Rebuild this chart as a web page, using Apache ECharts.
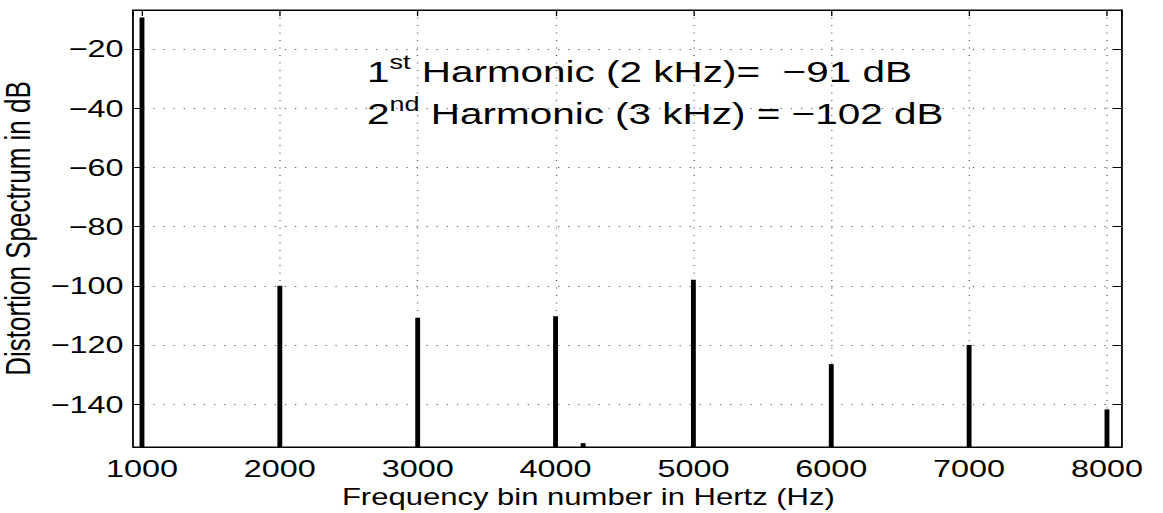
<!DOCTYPE html>
<html><head><meta charset="utf-8">
<script src="https://cdn.jsdelivr.net/npm/echarts@6/dist/echarts.min.js"></script>
<style>
html,body{margin:0;padding:0;background:#fff;overflow:hidden;}
#main{width:862px;height:513px;transform:scaleX(1.34919);transform-origin:0 0;}
</style></head><body><div id="main"></div>
<script>
// ---- data ----
const frequencies = [1000, 2000, 3000, 4000, 4200, 5000, 6000, 7000, 8000];
const levels = [-9.3, -100, -110.8, -110.3, -153.2, -98, -126.5, -120, -141.8];
const xRange = [935, 8109];
const yRange = [-154.5, -6.8];
const xTickStep = 1000;
const yTickStep = 20;
const xTitle = 'Frequency bin number in Hertz (Hz)';
const yTitle = 'Distortion Spectrum in dB';
const note1 = ['1', 'st', ' Harmonic (2 kHz)=  \u221291 dB'];
const note2 = ['2', 'nd', ' Harmonic (3 kHz) = \u2212102 dB'];

// ---- chart ----
const FONT = '"Liberation Sans", Arial, Helvetica, sans-serif';
const MAIN_FS = 30, SUP_FS = 20;
const chart = echarts.init(document.getElementById('main'), null, {renderer: 'svg'});
const seriesData = frequencies.map((f, i) => [f, levels[i]]);
const fmtY = v => v < 0 ? '\u2212' + (-v) : String(v);
const fmtX = v => String(v);
const dotted = {show: true, lineStyle: {color: '#666', width: 1, type: [1, 6.5]}};

const measureCtx = document.createElement('canvas').getContext('2d');
function textWidth(str, fs) {
  measureCtx.font = fs + 'px ' + FONT;
  return measureCtx.measureText(str).width;
}
function noteGraphics(parts, x0, mainMid, supMid) {
  const w1 = textWidth(parts[0], MAIN_FS);
  const w2 = textWidth(parts[1], SUP_FS);
  const base = {fontFamily: FONT, fill: '#000', align: 'left', verticalAlign: 'middle'};
  return [
    {type: 'text', x: x0, y: mainMid, z: 100, style: Object.assign({text: parts[0], fontSize: MAIN_FS}, base)},
    {type: 'text', x: x0 + w1, y: supMid, z: 100, style: Object.assign({text: parts[1], fontSize: SUP_FS}, base)},
    {type: 'text', x: x0 + w1 + w2, y: mainMid, z: 100, style: Object.assign({text: parts[2], fontSize: MAIN_FS}, base)}
  ];
}

chart.setOption({
  animation: false,
  backgroundColor: '#fff',
  grid: {left: 98.6, right: 30.4, top: 10, bottom: 66, show: true, borderColor: '#000', borderWidth: 1,
         containLabel: false, outerBoundsMode: 'none'},
  xAxis: [{
    type: 'value', position: 'bottom', min: xRange[0], max: xRange[1],
    minInterval: xTickStep, maxInterval: xTickStep,
    name: xTitle, nameLocation: 'middle', nameGap: 21,
    nameTextStyle: {fontFamily: FONT, fontSize: 23, color: '#000', padding: [0, 58, 0, 0]},
    axisLine: {show: true, onZero: false, lineStyle: {color: '#000', width: 1}},
    axisTick: {show: true, inside: true, length: 6, lineStyle: {color: '#000'}},
    axisLabel: {show: true, fontFamily: FONT, fontSize: 24, color: '#000', margin: 10, formatter: fmtX, showMinLabel: false, showMaxLabel: false},
    splitLine: dotted
  }, {
    type: 'value', position: 'top', min: xRange[0], max: xRange[1],
    minInterval: xTickStep, maxInterval: xTickStep,
    axisLine: {show: true, onZero: false, lineStyle: {color: '#000', width: 1}},
    axisTick: {show: true, inside: true, length: 6, lineStyle: {color: '#000'}},
    axisLabel: {show: false}, splitLine: {show: false}
  }],
  yAxis: [{
    type: 'value', position: 'left', min: yRange[0], max: yRange[1],
    minInterval: yTickStep, maxInterval: yTickStep,
    name: yTitle, nameLocation: 'middle', nameGap: 64, nameRotate: 90,
    nameTextStyle: {fontFamily: FONT, fontSize: 26, color: '#000'},
    axisLine: {show: true, onZero: false, lineStyle: {color: '#000', width: 1}},
    axisTick: {show: true, inside: true, length: 7, lineStyle: {color: '#000'}},
    axisLabel: {show: true, fontFamily: FONT, fontSize: 24, color: '#000', margin: 7, formatter: fmtY, showMinLabel: false, showMaxLabel: false},
    splitLine: dotted
  }, {
    type: 'value', position: 'right', min: yRange[0], max: yRange[1],
    minInterval: yTickStep, maxInterval: yTickStep,
    axisLine: {show: true, onZero: false, lineStyle: {color: '#000', width: 1}},
    axisTick: {show: true, inside: true, length: 7, lineStyle: {color: '#000'}},
    axisLabel: {show: false}, splitLine: {show: false}
  }],
  graphic: noteGraphics(note1, 272, 71.5, 62).concat(noteGraphics(note2, 272, 113.5, 104)),
  series: [{
    type: 'custom',
    xAxisIndex: 0, yAxisIndex: 0,
    data: seriesData,
    renderItem: function (params, api) {
      const x = api.value(0), y = api.value(1);
      const top = api.coord([x, y]);
      const bottom = api.coord([x, yRange[0]]);
      const w = 3.6;
      return {type: 'rect', shape: {x: top[0] - w / 2, y: top[1], width: w, height: bottom[1] - top[1]}, style: {fill: '#000'}};
    }
  }]
});
</script></body></html>
